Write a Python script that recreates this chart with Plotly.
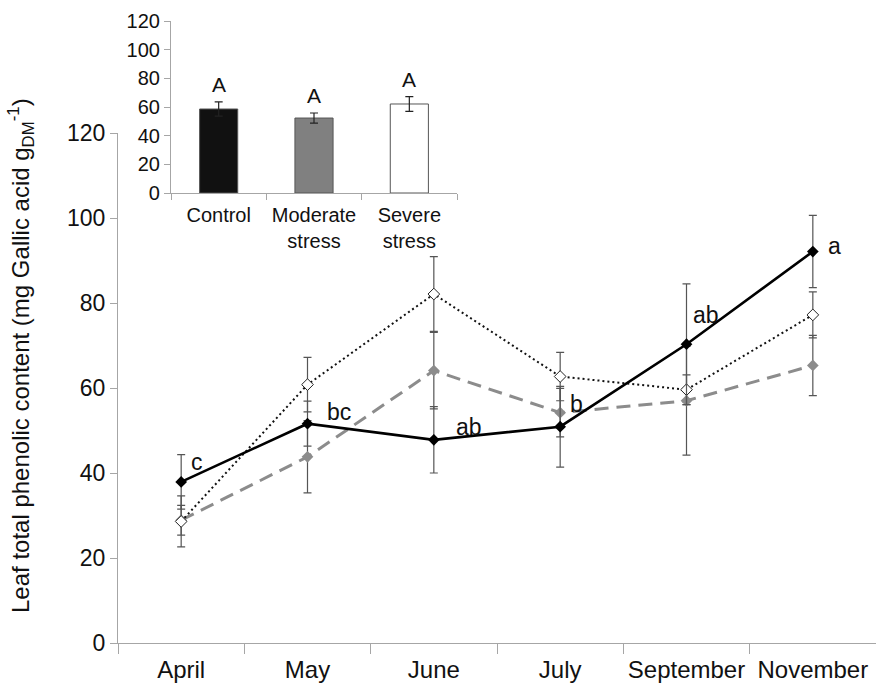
import plotly.graph_objects as go

# ---------------- data ----------------
months = ["April", "May", "June", "July", "September", "November"]

control = [37.9, 51.6, 47.8, 50.9, 70.3, 92.1]
control_err = [6.4, 5.3, 7.8, 9.5, 14.2, 8.5]
control_letters = ["c", "bc", "ab", "b", "ab", "a"]

moderate = [28.9, 43.8, 64.1, 54.2, 57.0, 65.3]
moderate_err = [3.5, 8.5, 9.0, 5.7, 12.8, 7.1]

severe = [28.6, 60.8, 82.1, 62.7, 59.6, 77.2]
severe_err = [6.0, 6.4, 8.8, 5.7, 3.5, 5.4]

treatments = ["Control", "Moderate stress", "Severe stress"]
treatment_ticks = ["Control", "Moderate<br>stress", "Severe<br>stress"]
treatment_mean = [58.6, 52.3, 62.1]
treatment_err = [5.0, 3.5, 5.2]
treatment_letters = ["A", "A", "A"]

# ---------------- style ----------------
W, H = 876, 687
FONT = "Liberation Sans, Arial, sans-serif"
AXIS = "#a6a6a6"
ERR = "#555555"


def px_x(p):
    return p / W


def px_y(p):
    return (H - p) / H


fig = go.Figure()

err_style = dict(type="data", visible=True, color=ERR, thickness=1.2, width=4)

fig.add_trace(go.Scatter(
    x=months, y=moderate, mode="lines+markers",
    line=dict(color="#8c8c8c", width=3, dash="14px,8px"),
    marker=dict(symbol="diamond", size=9, color="#8c8c8c"),
    error_y=dict(array=moderate_err, **err_style),
    xaxis="x", yaxis="y", showlegend=False))

fig.add_trace(go.Scatter(
    x=months, y=severe, mode="lines+markers",
    line=dict(color="#111111", width=2, dash="2px,3px"),
    marker=dict(symbol="diamond", size=9, color="white",
                line=dict(color="#222222", width=1)),
    error_y=dict(array=severe_err, **err_style),
    xaxis="x", yaxis="y", showlegend=False))

fig.add_trace(go.Scatter(
    x=months, y=control, mode="lines+markers",
    line=dict(color="#000000", width=2.6),
    marker=dict(symbol="diamond", size=9, color="#000000"),
    error_y=dict(array=control_err, **err_style),
    xaxis="x", yaxis="y", showlegend=False))

# inset bars
fig.add_trace(go.Bar(
    x=treatments, y=treatment_mean,
    marker=dict(color=["#111111", "#808080", "#ffffff"],
                line=dict(color="#555555", width=1)),
    error_y=dict(array=treatment_err, type="data", visible=True,
                 color="#222222", thickness=1.2, width=4),
    width=0.4, xaxis="x2", yaxis="y2", showlegend=False))

annotations = []
shifts = [(16, 20), (31, 12), (35, 13), (16, 23), (19, 29), (22, 6)]
for m, v, t, (dx, dy) in zip(months, control, control_letters, shifts):
    annotations.append(dict(
        x=m, y=v, xref="x", yref="y", text=t, showarrow=False,
        xanchor="center", yanchor="middle", xshift=dx, yshift=dy,
        font=dict(family=FONT, size=23, color="#111111")))

for c, v, e, t in zip(treatments, treatment_mean, treatment_err, treatment_letters):
    annotations.append(dict(
        x=c, y=v + e, xref="x2", yref="y2", text=t, showarrow=False,
        xanchor="center", yanchor="bottom", yshift=4,
        font=dict(family=FONT, size=21, color="#111111")))

annotations.append(dict(
    x=px_x(21), y=px_y(356), xref="paper", yref="paper",
    text="Leaf total phenolic content (mg Gallic acid g<sub>DM</sub><sup>-1</sup>)",
    textangle=-90, showarrow=False, xanchor="center", yanchor="middle",
    font=dict(family=FONT, size=24, color="#111111")))

common_axis = dict(showgrid=False, zeroline=False, automargin=False,
                   showline=True, linecolor=AXIS, tickcolor=AXIS)

fig.update_layout(
    width=W, height=H,
    margin=dict(l=0, r=0, t=0, b=0, autoexpand=False),
    paper_bgcolor="white", plot_bgcolor="white",
    font=dict(family=FONT, color="#111111"),
    annotations=annotations,
    xaxis=dict(
        domain=[px_x(118), 1.0], anchor="y",
        type="category", categoryorder="array", categoryarray=months,
        range=[-0.5, 5.5], tickangle=0, ticklabelstandoff=5,
        tickson="boundaries", ticks="outside", ticklen=10, linewidth=1.3,
        tickfont=dict(family=FONT, size=24, color="#111111"), **common_axis),
    yaxis=dict(
        domain=[px_y(643), px_y(133)], anchor="x",
        range=[0, 120], dtick=20, tick0=0,
        ticks="outside", ticklen=7, linewidth=1.3,
        tickfont=dict(family=FONT, size=23, color="#111111"), **common_axis),
    xaxis2=dict(
        domain=[px_x(171), px_x(457)], anchor="y2",
        type="category", categoryorder="array", categoryarray=treatments,
        tickvals=treatments, ticktext=treatment_ticks,
        range=[-0.5, 2.5], tickangle=0, ticklabelstandoff=4,
        tickson="boundaries", ticks="outside", ticklen=6, linewidth=1.2,
        tickfont=dict(family=FONT, size=20, color="#111111"), **common_axis),
    yaxis2=dict(
        domain=[px_y(193), px_y(21)], anchor="x2",
        range=[0, 120], dtick=20, tick0=0,
        ticks="outside", ticklen=6, linewidth=1.2,
        tickfont=dict(family=FONT, size=20, color="#111111"), **common_axis),
)

fig.write_html(
    "out.html",
    config={"displayModeBar": False},
    post_script="document.body.style.margin='0';document.body.style.overflow='hidden';",
)
